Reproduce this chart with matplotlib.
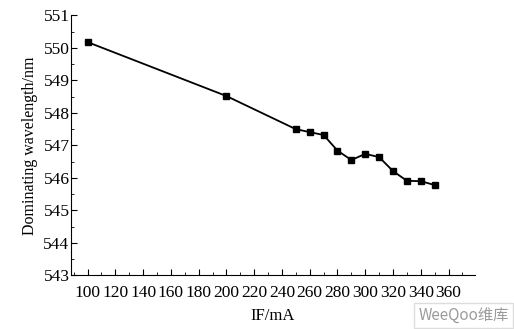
import matplotlib
matplotlib.use("Agg")
import matplotlib.pyplot as plt
from matplotlib.ticker import MultipleLocator

current = [100, 200, 250, 260, 270, 280, 290, 300, 310, 320, 330, 340, 350]
wavelength = [550.18, 548.52, 547.50, 547.41, 547.32, 546.84, 546.55,
              546.74, 546.64, 546.21, 545.91, 545.90, 545.78]
x_ticks = list(range(100, 361, 20))
y_ticks = list(range(543, 552))


def main():
    plt.rcParams['font.family'] = ['Liberation Serif', 'DejaVu Serif']
    fig = plt.figure(figsize=(5.14, 3.29), dpi=100)
    ax = fig.add_axes([0.138, 0.163, 0.786, 0.790])

    ax.plot(current, wavelength, color='black', lw=1.3,
            marker='s', markersize=5)

    ax.set_xlim(88, 379)
    ax.set_ylim(543, 551)
    ax.set_xticks(x_ticks)
    ax.set_yticks(y_ticks)
    ax.xaxis.set_minor_locator(MultipleLocator(10))
    ax.yaxis.set_minor_locator(MultipleLocator(0.5))
    ax.tick_params(which='both', direction='in', labelsize=12.5)
    ax.tick_params(axis='x', pad=7)
    ax.tick_params(axis='y', pad=1)
    ax.tick_params(which='major', length=4)
    ax.tick_params(which='minor', length=2)
    for side in ('top', 'right'):
        ax.spines[side].set_visible(False)

    ax.set_xlabel('IF/mA', fontsize=12, labelpad=5)
    ax.set_ylabel('Dominating wavelength/nm', fontsize=11.5, labelpad=4)

    # watermark in the corner of the scanned figure
    fig.text(0.99, 0.015, 'WeeQoo维库', ha='right', va='bottom',
             fontsize=11, color='#9a9a9a', style='italic',
             family=['Noto Sans CJK SC', 'DejaVu Sans'],
             bbox=dict(facecolor='white', edgecolor='#dddddd', pad=3))

    fig.savefig('out.png', dpi=100)


if __name__ == "__main__":
    main()
